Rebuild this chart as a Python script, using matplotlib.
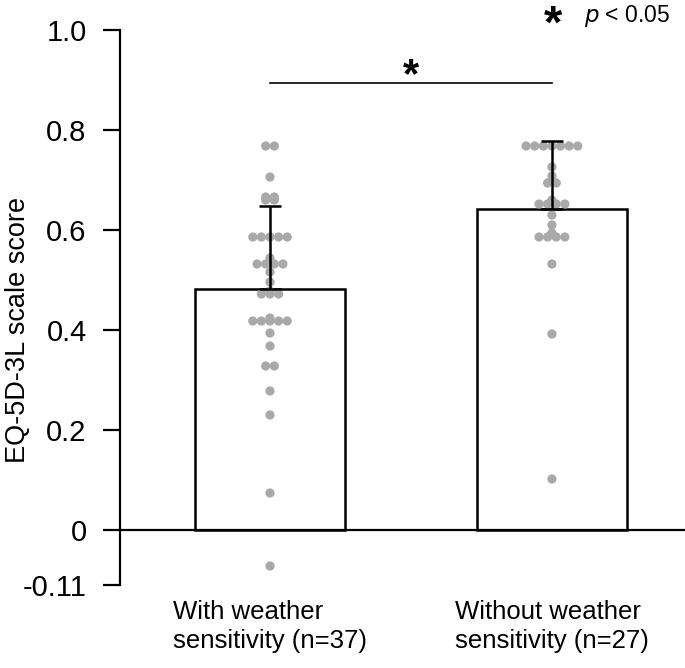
import numpy as np
import matplotlib
matplotlib.use("Agg")
import matplotlib.pyplot as plt
from collections import Counter

plt.rcParams['font.family'] = ['Liberation Sans', 'DejaVu Sans']

# ---- data ----
categories = ["With weather\nsensitivity (n=37)", "Without weather\nsensitivity (n=27)"]
means = [0.482, 0.642]
sds = [0.166, 0.136]
with_ws = [0.768, 0.768, 0.706, 0.666, 0.666, 0.660, 0.660,
           0.586, 0.586, 0.586, 0.586, 0.586, 0.544,
           0.532, 0.532, 0.532, 0.532, 0.516, 0.496,
           0.472, 0.472, 0.472, 0.478, 0.424,
           0.418, 0.418, 0.418, 0.418, 0.418, 0.394, 0.368,
           0.328, 0.328, 0.278, 0.230, 0.074, -0.072]
without_ws = [0.768, 0.768, 0.768, 0.768, 0.768, 0.768, 0.768,
              0.726, 0.708, 0.694, 0.694, 0.700,
              0.652, 0.652, 0.652, 0.652, 0.660,
              0.630, 0.610, 0.594, 0.586, 0.586, 0.586, 0.586,
              0.532, 0.392, 0.102]
groups = [with_ws, without_ws]
yticks = [-0.11, 0, 0.2, 0.4, 0.6, 0.8, 1.0]
yticklabels = ["-0.11", "0", "0.2", "0.4", "0.6", "0.8", "1.0"]

W, H = 685, 668
fig = plt.figure(figsize=(W / 100, H / 100), dpi=100)
ax = fig.add_axes([120 / W, 1 - 585 / H, 1 - 120 / W, (585 - 30) / H])
ax.set_xlim(-0.532, 1.472)
ax.set_ylim(-0.11, 1.0)

x = np.arange(len(categories))
ax.bar(x, means, width=0.532, color='white', edgecolor='black', linewidth=1.8, zorder=1)

# dot layout: identical values spread symmetrically (pixel spacing)
fig.canvas.draw()
px_per_x = ax.transData.transform((1, 0))[0] - ax.transData.transform((0, 0))[0]
step = 8.6 / px_per_x
for xi, vals in zip(x, groups):
    cnt = Counter(vals)
    xs, ys = [], []
    for v, n in cnt.items():
        for i in range(n):
            xs.append(xi + (i - (n - 1) / 2) * step)
            ys.append(v)
    ax.scatter(xs, ys, s=44, color='#a9a9a9', edgecolors='none', zorder=2)

ax.errorbar(x, means, yerr=[[0, 0], sds], fmt='none', ecolor='black',
            elinewidth=1.8, capsize=8, capthick=1.8, zorder=3)

ax.axhline(0, color='black', lw=1.6, zorder=4)

# significance
ax.plot([0, 1], [0.894, 0.894], color='black', lw=1.2)
ax.text(0.5, 0.886, "*", ha='center', va='baseline', fontsize=30, fontweight='bold')

fig.text(553 / W, 1 - 38 / H, "*", ha='center', va='baseline', fontsize=34, fontweight='bold')
fig.text(584 / W, 1 - 16 / H, "$\\it{p}$ < 0.05", ha='left', va='center', fontsize=16.5)

for s in ['top', 'right', 'bottom']:
    ax.spines[s].set_visible(False)
ax.spines['left'].set_linewidth(1.6)
ax.spines['left'].set_bounds(-0.11, 1.0)
ax.set_yticks(yticks)
ax.set_yticklabels(yticklabels)
ax.tick_params(axis='y', length=12, width=1.6, labelsize=21, pad=12)
ax.set_xticks(x)
ax.set_xticklabels(categories, fontsize=18.5, linespacing=1.25, multialignment='left')
ax.tick_params(axis='x', length=0, pad=11)
ax.set_ylabel("EQ-5D-3L scale score", fontsize=19.5)
ax.yaxis.set_label_coords(-0.158, 0.46)

fig.savefig("out.png", dpi=100)
